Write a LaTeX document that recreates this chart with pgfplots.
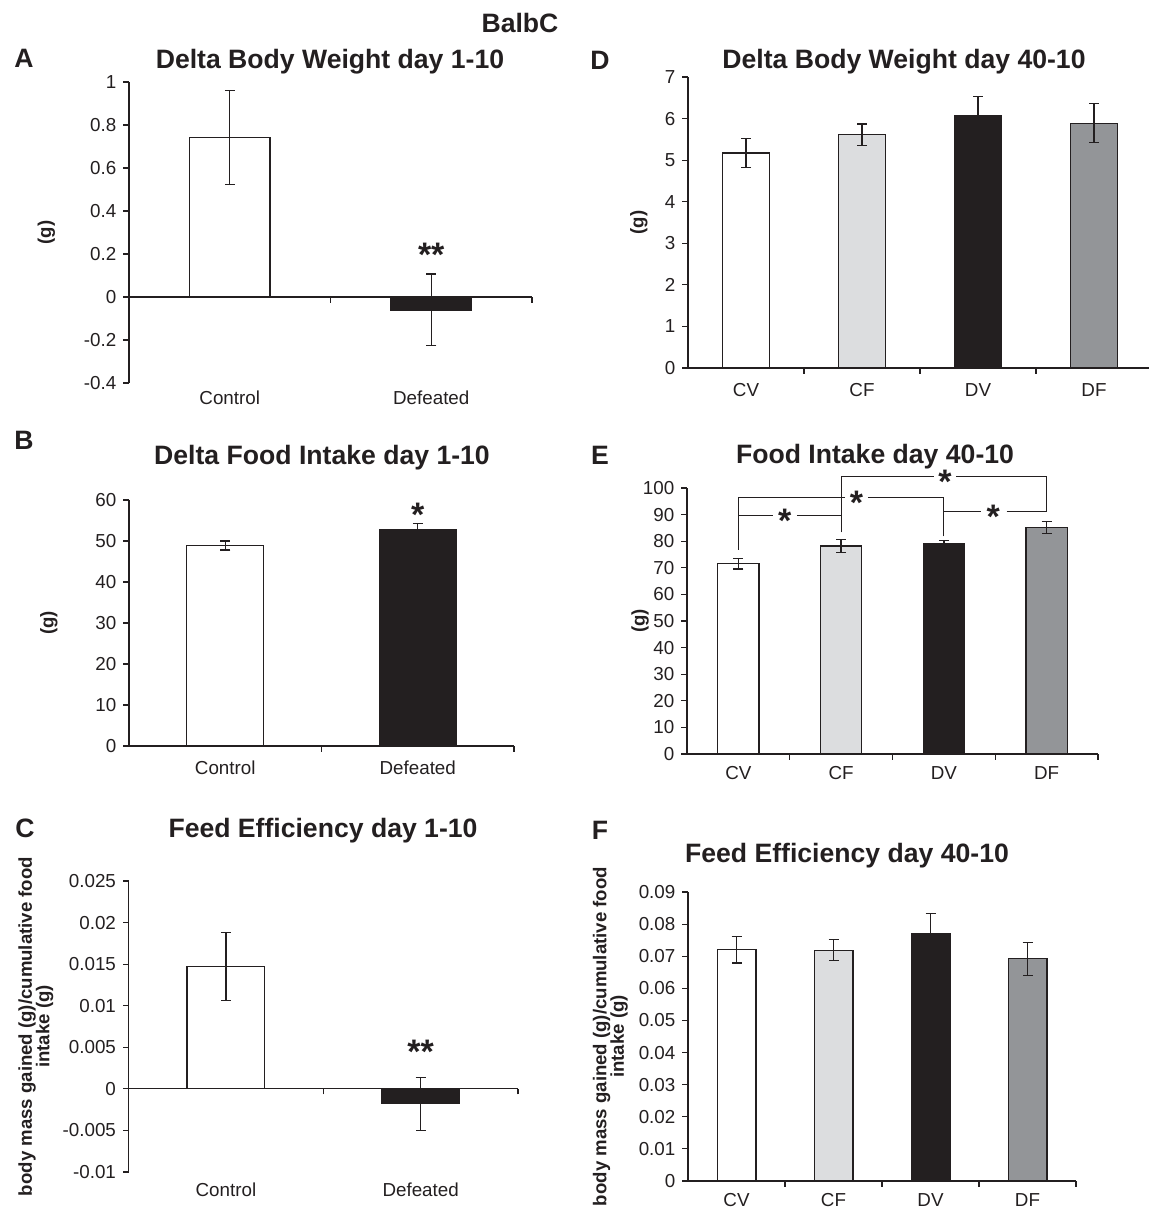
\documentclass[border=0pt]{standalone}
\usepackage{fontspec}
\setmainfont{Liberation Sans}
\usepackage{pgfplots}
\pgfplotsset{compat=1.18}
\definecolor{ink}{HTML}{231F20}
\definecolor{lgrey}{HTML}{DCDDDF}
\definecolor{mgrey}{HTML}{939598}
\newcommand{\tks}{\fontsize{9.4}{11}\selectfont}
\newcommand{\ttl}{\fontsize{13.3}{15}\bfseries\selectfont}
\newcommand{\ylb}{\fontsize{9.3}{8.8}\bfseries\selectfont}
\newcommand{\sigf}{\fontsize{17}{17}\bfseries\selectfont}
\pgfplotsset{
  panel/.style={
    scale only axis, clip=false, anchor=south west,
    axis x line*=middle, axis y line*=left,
    axis line style={draw=ink, line width=0.55pt},
    every tick/.style={draw=ink, line width=0.55pt},
    tick align=outside, major tick length=2.8pt,
    scaled y ticks=false,
    xticklabels={},
    yticklabel style={font=\tks, text=ink},
    ylabel style={font=\ylb, text=ink, align=center, anchor=center},
  },
  bars/.style={ybar, bar width=0.4, bar shift=0pt, draw=ink, line width=0.6pt,
    error bars/y dir=both, error bars/y explicit,
    error bars/error bar style={draw=ink, line width=0.65pt},
    error bars/error mark options={draw=ink, line width=0.65pt, mark size=2.5pt, rotate=90}},
}
\tikzset{
  cat/.style={font=\tks, text=ink, anchor=center},
  sig/.style={font=\sigf, text=ink, inner sep=0pt, anchor=north},
  ptitle/.style={font=\ttl, text=ink, anchor=base, inner sep=0pt},
}
\begin{document}
\begin{tikzpicture}
\path[use as bounding box] (0,0) rectangle (574.5pt,-605pt);

% ---------- A ----------
\begin{axis}[panel, at={(64.5pt,-191.5pt)}, width=201.5pt, height=150.5pt,
  xmin=0, xmax=2, ymin=-0.4, ymax=1,
  xtick={0,1,2}, ytick={-0.4,-0.2,0,0.2,0.4,0.6,0.8,1},
  yticklabels={-0.4,-0.2,0,0.2,0.4,0.6,0.8,1},
  ylabel={(g)}, ylabel style={at={(axis description cs:-0.205,0.5)}}]
\addplot[bars, fill=white] coordinates {(0.5,0.742) +- (0,0.218)};
\addplot[bars, fill=ink] coordinates {(1.5,-0.06) +- (0,0.167)};
\node[cat, yshift=-7.5pt] at (axis cs:0.5,-0.4) {Control};
\node[cat, yshift=-7.5pt] at (axis cs:1.5,-0.4) {Defeated};
\node[sig] at (axis cs:1.5,0.251) {**};
\end{axis}
\node[ptitle] at (165pt,-34pt) {Delta Body Weight day 1-10};

% ---------- B ----------
\begin{axis}[panel, at={(64.5pt,-373pt)}, width=192.5pt, height=123pt,
  xmin=0, xmax=2, ymin=0, ymax=60,
  xtick={0,1,2}, ytick={0,10,20,30,40,50,60},
  yticklabels={0,10,20,30,40,50,60},
  ylabel={(g)}, ylabel style={at={(axis description cs:-0.208,0.5)}}]
\addplot[bars, fill=white] coordinates {(0.5,48.9) +- (0,1.1)};
\addplot[bars, fill=ink] coordinates {(1.5,52.8) +- (0,1.5)};
\node[cat, yshift=-11pt] at (axis cs:0.5,0) {Control};
\node[cat, yshift=-11pt] at (axis cs:1.5,0) {Defeated};
\node[sig] at (axis cs:1.5,59.3) {*};
\end{axis}
\node[ptitle] at (161pt,-232pt) {Delta Food Intake day 1-10};

% ---------- C ----------
\begin{axis}[panel, at={(64.3pt,-586pt)}, width=194.7pt, height=145.5pt,
  xmin=0, xmax=2, ymin=-0.01, ymax=0.025,
  xtick={0,1,2}, ytick={-0.01,-0.005,0,0.005,0.01,0.015,0.02,0.025},
  yticklabels={-0.01,-0.005,0,0.005,0.01,0.015,0.02,0.025},
  ylabel={body mass gained (g)/cumulative food\\intake (g)},
  ylabel style={at={(axis description cs:-0.238,0.5)}}]
\addplot[bars, fill=white] coordinates {(0.5,0.0147) +- (0,0.0041)};
\addplot[bars, fill=ink] coordinates {(1.5,-0.0018) +- (0,0.0032)};
\node[cat, yshift=-9pt] at (axis cs:0.5,-0.01) {Control};
\node[cat, yshift=-9pt] at (axis cs:1.5,-0.01) {Defeated};
\node[sig] at (axis cs:1.5,0.0059) {**};
\end{axis}
\node[ptitle] at (161.5pt,-418.5pt) {Feed Efficiency day 1-10};

% ---------- D ----------
\begin{axis}[panel, at={(344pt,-184pt)}, width=232pt, height=145.5pt,
  xmin=0, xmax=4, ymin=0, ymax=7,
  xtick={0,1,2,3,4}, ytick={0,1,2,3,4,5,6,7},
  yticklabels={0,1,2,3,4,5,6,7},
  ylabel={(g)}, ylabel style={at={(axis description cs:-0.106,0.5)}}]
\addplot[bars, fill=white] coordinates {(0.5,5.17) +- (0,0.345)};
\addplot[bars, fill=lgrey] coordinates {(1.5,5.61) +- (0,0.26)};
\addplot[bars, fill=ink] coordinates {(2.5,6.07) +- (0,0.46)};
\addplot[bars, fill=mgrey] coordinates {(3.5,5.89) +- (0,0.47)};
\node[cat, yshift=-11pt] at (axis cs:0.5,0) {CV};
\node[cat, yshift=-11pt] at (axis cs:1.5,0) {CF};
\node[cat, yshift=-11pt] at (axis cs:2.5,0) {DV};
\node[cat, yshift=-11pt] at (axis cs:3.5,0) {DF};
\end{axis}
\node[ptitle] at (452pt,-34pt) {Delta Body Weight day 40-10};

% ---------- E ----------
\begin{axis}[panel, at={(343.5pt,-377pt)}, width=205.5pt, height=133pt,
  xmin=0, xmax=4, ymin=0, ymax=100,
  xtick={0,1,2,3,4}, ytick={0,10,20,30,40,50,60,70,80,90,100},
  yticklabels={0,10,20,30,40,50,60,70,80,90,100},
  ylabel={(g)}, ylabel style={at={(axis description cs:-0.114,0.5)}}]
\addplot[bars, fill=white] coordinates {(0.5,71.5) +- (0,1.9)};
\addplot[bars, fill=lgrey] coordinates {(1.5,78.2) +- (0,2.5)};
\addplot[bars, fill=ink] coordinates {(2.5,79.2) +- (0,1.1)};
\addplot[bars, fill=mgrey] coordinates {(3.5,85.1) +- (0,2.2)};
\node[cat, yshift=-9.5pt] at (axis cs:0.5,0) {CV};
\node[cat, yshift=-9.5pt] at (axis cs:1.5,0) {CF};
\node[cat, yshift=-9.5pt] at (axis cs:2.5,0) {DV};
\node[cat, yshift=-9.5pt] at (axis cs:3.5,0) {DF};
% significance brackets
\draw[ink, line width=0.6pt] (axis cs:0.5,76.8) -- (axis cs:0.5,96.5);
\draw[ink, line width=0.6pt] (axis cs:1.5,83.3) -- (axis cs:1.5,104.4);
\draw[ink, line width=0.6pt] (axis cs:2.5,81.8) -- (axis cs:2.5,96.5);
\draw[ink, line width=0.6pt] (axis cs:3.5,91.2) -- (axis cs:3.5,104.4);
\draw[ink, line width=0.6pt] (axis cs:0.5,89.8) -- (axis cs:0.84,89.8);
\draw[ink, line width=0.6pt] (axis cs:1.07,89.8) -- (axis cs:1.5,89.8);
\draw[ink, line width=0.6pt] (axis cs:0.5,96.5) -- (axis cs:1.54,96.5);
\draw[ink, line width=0.6pt] (axis cs:1.76,96.5) -- (axis cs:2.5,96.5);
\draw[ink, line width=0.6pt] (axis cs:1.5,104.4) -- (axis cs:2.40,104.4);
\draw[ink, line width=0.6pt] (axis cs:2.62,104.4) -- (axis cs:3.5,104.4);
\draw[ink, line width=0.6pt] (axis cs:2.5,91.2) -- (axis cs:2.86,91.2);
\draw[ink, line width=0.6pt] (axis cs:3.11,91.2) -- (axis cs:3.5,91.2);
\node[sig, yshift=3.3pt] at (axis cs:0.95,89.8) {*};
\node[sig, yshift=3.3pt] at (axis cs:1.65,96.5) {*};
\node[sig, yshift=3.3pt] at (axis cs:2.51,104.4) {*};
\node[sig, yshift=3.3pt] at (axis cs:2.98,91.2) {*};
\end{axis}
\node[ptitle] at (437.5pt,-231.5pt) {Food Intake day 40-10};

% ---------- F ----------
\begin{axis}[panel, at={(344pt,-590.5pt)}, width=194pt, height=144.5pt,
  xmin=0, xmax=4, ymin=0, ymax=0.09,
  xtick={0,1,2,3,4}, ytick={0,0.01,0.02,0.03,0.04,0.05,0.06,0.07,0.08,0.09},
  yticklabels={0,0.01,0.02,0.03,0.04,0.05,0.06,0.07,0.08,0.09},
  ylabel={body mass gained (g)/cumulative food\\intake (g)},
  ylabel style={at={(axis description cs:-0.2,0.5)}}]
\addplot[bars, fill=white] coordinates {(0.5,0.0720) +- (0,0.0041)};
\addplot[bars, fill=lgrey] coordinates {(1.5,0.0719) +- (0,0.0033)};
\addplot[bars, fill=ink] coordinates {(2.5,0.0769) +- (0,0.0064)};
\addplot[bars, fill=mgrey] coordinates {(3.5,0.0692) +- (0,0.0051)};
\node[cat, yshift=-9.5pt] at (axis cs:0.5,0) {CV};
\node[cat, yshift=-9.5pt] at (axis cs:1.5,0) {CF};
\node[cat, yshift=-9.5pt] at (axis cs:2.5,0) {DV};
\node[cat, yshift=-9.5pt] at (axis cs:3.5,0) {DF};
\end{axis}
\node[ptitle] at (423.5pt,-431pt) {Feed Efficiency day 40-10};

% ---------- panel letters and header ----------
\node[font=\ttl, text=ink] at (260pt,-11.5pt) {BalbC};
\node[font=\ttl, text=ink] at (12pt,-29pt) {A};
\node[font=\ttl, text=ink] at (12pt,-220pt) {B};
\node[font=\ttl, text=ink] at (12.5pt,-414pt) {C};
\node[font=\ttl, text=ink] at (300pt,-30pt) {D};
\node[font=\ttl, text=ink] at (300pt,-227.5pt) {E};
\node[font=\ttl, text=ink] at (300pt,-415pt) {F};
\end{tikzpicture}
\end{document}
